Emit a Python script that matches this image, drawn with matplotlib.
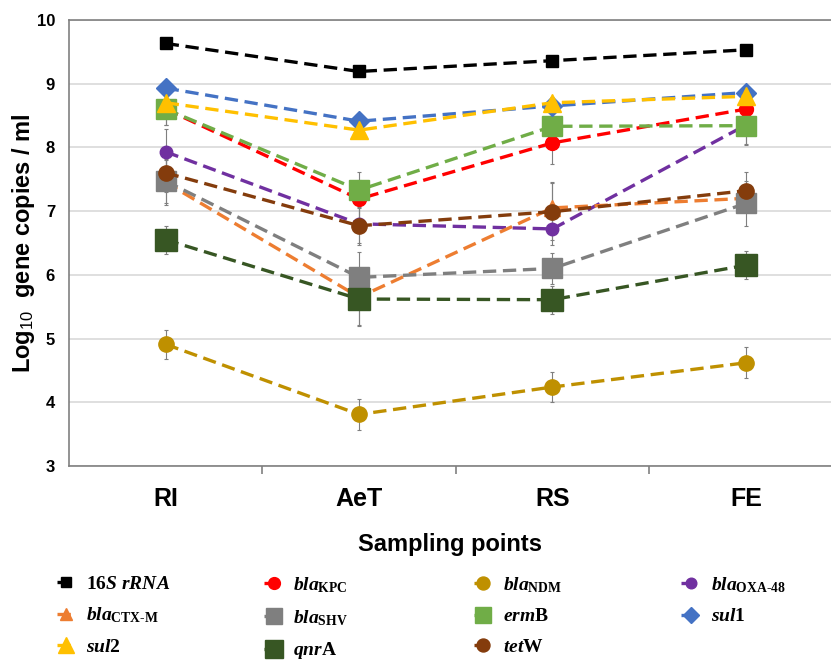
import matplotlib
matplotlib.use("Agg")
import matplotlib.pyplot as plt

plt.rcParams['font.family'] = ['Liberation Sans', 'DejaVu Sans']
plt.rcParams['mathtext.fontset'] = 'custom'
plt.rcParams['mathtext.it'] = 'Liberation Serif:italic:bold'
plt.rcParams['mathtext.rm'] = 'Liberation Serif:bold'
plt.rcParams['mathtext.sf'] = 'Liberation Sans'

# sampling points
points = ['RI', 'AeT', 'RS', 'FE']

# log10 gene copies / ml
rrna16s = [9.63, 9.19, 9.36, 9.53]
bla_kpc = [8.60, 7.19, 8.07, 8.60]
bla_ndm = [4.91, 3.81, 4.24, 4.62]
bla_oxa48 = [7.93, 6.80, 6.72, 8.35]
bla_ctxm = [7.45, 5.65, 7.05, 7.20]
bla_shv = [7.47, 5.96, 6.10, 7.12]
ermb = [8.60, 7.33, 8.33, 8.34]
sul1 = [8.93, 8.41, 8.65, 8.86]
sul2 = [8.70, 8.27, 8.70, 8.80]
qnra = [6.55, 5.62, 5.61, 6.15]
tetw = [7.60, 6.77, 6.99, 7.32]

# standard errors (rough)
err_16s = [0.04, 0.04, 0.04, 0.04]
err_kpc = [0.25, 0.30, 0.33, 0.20]
err_ndm = [0.23, 0.24, 0.23, 0.24]
err_oxa = [0.35, 0.30, 0.25, 0.30]
err_ctx = [0.35, 0.45, 0.40, 0.20]
err_shv = [0.35, 0.40, 0.25, 0.35]
err_erm = [0.25, 0.28, 0.10, 0.30]
err_sul1 = [0.05, 0.05, 0.08, 0.05]
err_sul2 = [0.10, 0.10, 0.08, 0.08]
err_qnr = [0.22, 0.40, 0.22, 0.22]
err_tet = [0.30, 0.30, 0.45, 0.30]

series = [
    (r'$\mathit{16S\ rRNA}$', rrna16s, err_16s, '#000000', 's', 8),
    (r'$\mathit{bla}_{\mathrm{KPC}}$', bla_kpc, err_kpc, '#FF0000', 'o', 10),
    (r'$\mathit{bla}_{\mathrm{NDM}}$', bla_ndm, err_ndm, '#BF9000', 'o', 11),
    (r'$\mathit{bla}_{\mathrm{OXA\text{-}48}}$', bla_oxa48, err_oxa, '#7030A0', 'o', 9),
    (r'$\mathit{bla}_{\mathrm{CTX\text{-}M}}$', bla_ctxm, err_ctx, '#ED7D31', '^', 11),
    (r'$\mathit{bla}_{\mathrm{SHV}}$', bla_shv, err_shv, '#7F7F7F', 's', 14),
    (r'$\mathit{erm}\mathrm{B}$', ermb, err_erm, '#70AD47', 's', 14),
    (r'$\mathit{sul}\mathrm{1}$', sul1, err_sul1, '#4472C4', 'D', 10),
    (r'$\mathit{sul}\mathrm{2}$', sul2, err_sul2, '#FFC000', '^', 13),
    (r'$\mathit{qnr}\mathrm{A}$', qnra, err_qnr, '#375623', 's', 16),
    (r'$\mathit{tet}\mathrm{W}$', tetw, err_tet, '#843C0C', 'o', 11),
]

fig = plt.figure(figsize=(8.31, 6.62), dpi=100)
ax = fig.add_axes([0.083, 0.296, 0.917, 0.674])

x = [i + 0.5 for i in range(len(points))]
handles = []
for label, vals, errs, col, mk, ms in series:
    ax.errorbar(x, vals, yerr=errs, fmt='none', ecolor='#7f7f7f',
                elinewidth=0.8, capsize=1.5, capthick=0.8, zorder=2)
    h, = ax.plot(x, vals, linestyle=(0, (4, 2)), lw=2.4, color=col,
                 marker=mk, markersize=ms, label=label, zorder=3)
    handles.append(h)

ax.set_ylim(3, 10)
ax.set_xlim(0, 3.94)
ax.set_yticks(range(3, 11))
ax.grid(axis='y', color='#d9d9d9', lw=1.2)
ax.set_axisbelow(True)
for s in ['top', 'left', 'bottom']:
    ax.spines[s].set_color('#808080')
    ax.spines[s].set_linewidth(1.2)
ax.spines['right'].set_visible(False)

ax.set_xticks(x)
ax.set_xticklabels(points, fontsize=18, fontweight='bold')
ax.tick_params(axis='x', length=0, pad=15)
ax.set_xticks([1, 2, 3], minor=True)
ax.tick_params(axis='x', which='minor', length=6, width=1.2, color='#808080')
ax.tick_params(axis='y', length=0, labelsize=12, pad=10)
for t in ax.get_yticklabels():
    t.set_fontweight('bold')

ax.set_xlabel('Sampling points', fontsize=17, fontweight='bold', labelpad=16)
ax.set_ylabel(r'Log$_{\mathsf{10}}$  gene copies / ml', fontsize=17,
              fontweight='bold', labelpad=0)

# legend laid out row by row, one column at a time
columns = [[0, 4, 8], [1, 5, 9], [2, 6, 10], [3, 7]]
col_x = [0.068, 0.318, 0.570, 0.820]
for idx, cx in zip(columns, col_x):
    leg = fig.legend([handles[i] for i in idx], [handles[i].get_label() for i in idx],
                     loc='upper left', bbox_to_anchor=(cx, 0.131),
                     frameon=False, fontsize=14, handlelength=1.0, handletextpad=0.5,
                     labelspacing=0.66, markerscale=0.85, borderpad=0, borderaxespad=0)

fig.savefig('out.png', dpi=100)
